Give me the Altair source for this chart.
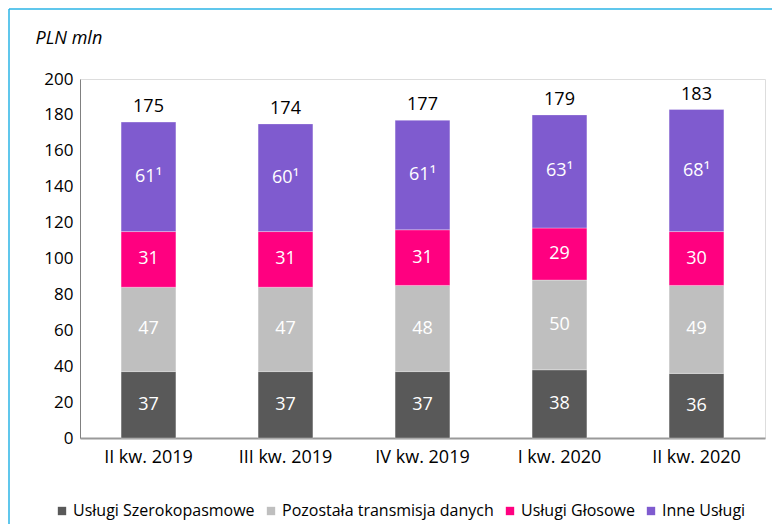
import altair as alt
import pandas as pd

quarters = ["II kw. 2019", "III kw. 2019", "IV kw. 2019", "I kw. 2020", "II kw. 2020"]
series = ["Usługi Szerokopasmowe", "Pozostała transmisja danych", "Usługi Głosowe", "Inne Usługi"]
broadband = [37, 37, 37, 38, 36]
other_data = [47, 47, 48, 50, 49]
voice = [31, 31, 31, 29, 30]
other = [61, 60, 61, 63, 68]
totals = [175, 174, 177, 179, 183]
y_ticks = [0, 20, 40, 60, 80, 100, 120, 140, 160, 180, 200]
colors = ["#595959", "#bfbfbf", "#ff0080", "#7f5bcf"]

rows = []
for qi, q in enumerate(quarters):
    for si, vals in enumerate([broadband, other_data, voice, other]):
        v = vals[qi]
        lab = f"{v}¹" if si == 3 else f"{v}"
        rows.append({"quarter": q, "series": series[si], "order": si, "value": v,
                     "label": lab, "total": totals[qi]})
df = pd.DataFrame(rows)

FONT = "Open Sans"

base = alt.Chart(df).transform_stack(
    stack="value", groupby=["quarter"], as_=["y0", "y1"], sort=[alt.SortField("order")]
).transform_calculate(mid="(datum.y0 + datum.y1) / 2")

x_axis = alt.Axis(labelAngle=0, labelFont=FONT, labelFontSize=18, labelColor="#000",
                  domainColor="#9a9a9a", domainWidth=2, ticks=False, labelPadding=10)
x_scale = alt.Scale(paddingInner=0.6, paddingOuter=0.3)
y_scale = alt.Scale(domain=[0, 200], nice=False)
y_axis = alt.Axis(values=y_ticks, grid=False, ticks=False, labelOverlap=False,
                  labelFont=FONT, labelFontSize=17, labelColor="#000", labelPadding=7,
                  domainColor="#808080", domainWidth=1,
                  title="PLN mln", titleAngle=0, titleFont=FONT, titleFontSize=18,
                  titleFontStyle="italic", titleFontWeight="normal", titleColor="#000",
                  titleAlign="left", titleBaseline="alphabetic", titleX=-45, titleY=-36)

bars = base.mark_bar(stroke="white", strokeWidth=0.6, strokeOpacity=0.5).encode(
    x=alt.X("quarter:N", sort=quarters, title=None, scale=x_scale, axis=x_axis),
    y=alt.Y("y0:Q", scale=y_scale, axis=y_axis),
    y2="y1:Q",
    color=alt.Color("series:N", sort=series,
                    scale=alt.Scale(domain=series, range=colors),
                    legend=alt.Legend(orient="none", direction="horizontal", title=None,
                                      legendX=-26, legendY=424, symbolType="square",
                                      symbolSize=70, symbolStrokeWidth=0, labelFont=FONT,
                                      labelFontSize=16, labelColor="#000", columnPadding=8,
                                      labelOffset=3, labelLimit=0)),
    order=alt.Order("order:Q"),
)

seg_text = base.mark_text(color="white", font=FONT, fontSize=18, baseline="middle").encode(
    x=alt.X("quarter:N", sort=quarters, title=None, scale=x_scale, axis=x_axis),
    y=alt.Y("mid:Q", scale=y_scale, axis=y_axis),
    text="label:N",
)

tot_text = base.transform_filter("datum.order == 3").mark_text(
    color="#000", font=FONT, fontSize=18, baseline="alphabetic", dy=-10
).encode(
    x=alt.X("quarter:N", sort=quarters, title=None, scale=x_scale, axis=x_axis),
    y=alt.Y("y1:Q", scale=y_scale, axis=y_axis),
    text="total:N",
)

frame_data = alt.Data(values=[{"k": 1}])
frame_top = alt.Chart(frame_data).mark_rule(color="#2bb5e6", strokeWidth=1.5).encode(
    x=alt.value(-71), x2=alt.value(700), y=alt.value(-70))
frame_left = alt.Chart(frame_data).mark_rule(color="#2bb5e6", strokeWidth=1.5).encode(
    x=alt.value(-71), y=alt.value(-70), y2=alt.value(460))

chart = alt.layer(bars, seg_text, tot_text, frame_top, frame_left).properties(
    width=685, height=359,
    autosize=alt.AutoSizeParams(type="none"),
    padding={"left": 72, "top": 71, "right": 7, "bottom": 86},
).configure_view(stroke=None).configure(background="white").configure_axisY(labelOverlap=False)

chart.save("out.html", embed_options={"renderer": "svg", "actions": False})
